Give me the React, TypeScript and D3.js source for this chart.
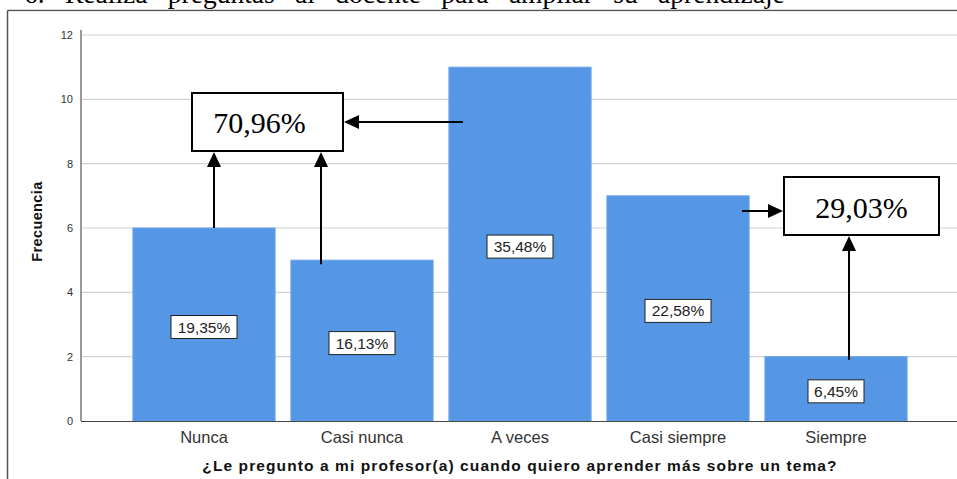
import React from "react";
import * as d3 from "d3";

const categories = ["Nunca", "Casi nunca", "A veces", "Casi siempre", "Siempre"];
const frequencies = [6, 5, 11, 7, 2];
const percentLabels = ["19,35%", "16,13%", "35,48%", "22,58%", "6,45%"];
const yTicks = [0, 2, 4, 6, 8, 10, 12];
const groupLow = "70,96%";
const groupHigh = "29,03%";
const headerText = "6. Realiza preguntas al docente para ampliar su aprendizaje";
const xTitle = "¿Le pregunto a mi profesor(a) cuando quiero aprender más sobre un tema?";
const yTitle = "Frecuencia";

const W = 957;
const H = 479;

export default function App() {
  const x = d3.scaleBand<string>().domain(categories).range([125, 915]).paddingInner(0.1).paddingOuter(0.05);
  const y = d3.scaleLinear().domain([0, 12]).range([421, 35]);
  const bw = x.bandwidth();
  const sans = "Arial, 'Liberation Sans', sans-serif";
  const serif = "'Times New Roman', 'Liberation Serif', serif";

  const Arrow = ({ x1, y1, x2, y2 }: { x1: number; y1: number; x2: number; y2: number }) => {
    const ang = Math.atan2(y2 - y1, x2 - x1);
    const L = 15, Wd = 7;
    const bx = x2 - L * Math.cos(ang), by = y2 - L * Math.sin(ang);
    const px = -Math.sin(ang) * Wd, py = Math.cos(ang) * Wd;
    return (
      <g>
        <line x1={x1} y1={y1} x2={bx} y2={by} stroke="#000" strokeWidth={2} />
        <polygon points={`${x2},${y2} ${bx + px},${by + py} ${bx - px},${by - py}`} fill="#000" />
      </g>
    );
  };

  const cx = (c: string) => (x(c) as number) + bw / 2;

  const box1 = { x0: 192, x1: 343, y0: 93, y1: 151 };
  const box2 = { x0: 784, x1: 939, y0: 177, y1: 235 };

  return (
    <svg width={W} height={H} style={{ position: "absolute", left: 0, top: 0, background: "#fff" }}>
      <rect x={0} y={0} width={W} height={H} fill="#fff" />
      <text x={24} y={3} fontFamily={serif} fontSize={27.5} wordSpacing={13.5} fill="#000">{headerText}</text>
      {/* frame */}
      <line x1={7.5} y1={10.5} x2={W} y2={10.5} stroke="#555" strokeWidth={1.5} />
      <line x1={7.5} y1={10.5} x2={7.5} y2={H} stroke="#555" strokeWidth={1.5} />
      <rect x={9} y={11.5} width={W - 9} height={H - 12} fill="#fff" />

      {/* grid */}
      {yTicks.filter((t) => t > 0).map((t) => (
        <line key={t} x1={81} x2={W} y1={y(t)} y2={y(t)} stroke="#d2d2d2" strokeWidth={1.2} />
      ))}
      {yTicks.map((t) => (
        <text key={t} x={73} y={y(t) + 4} textAnchor="end" fontFamily={sans} fontSize={11} fill="#333">{t}</text>
      ))}
      <line x1={81} x2={81} y1={30} y2={421} stroke="#999" strokeWidth={2} />

      {/* bars */}
      {categories.map((c, i) => (
        <rect key={c} x={x(c)} y={y(frequencies[i])} width={bw} height={y(0) - y(frequencies[i])} fill="#5597e5" stroke="#6aa4ea" strokeWidth={1} />
      ))}
      <line x1={81} x2={W} y1={421.5} y2={421.5} stroke="#444" strokeWidth={1.2} />

      {/* percent labels */}
      {categories.map((c, i) => {
        const cy = y(frequencies[i] / 2) + 2.5;
        const w = percentLabels[i].length > 5 ? 66 : 56;
        return (
          <g key={c}>
            <rect x={cx(c) - w / 2} y={cy - 11.5} width={w} height={23} fill="#fff" stroke="#222" strokeWidth={1} />
            <text x={cx(c)} y={cy + 5.5} textAnchor="middle" fontFamily={sans} fontSize={15.5} fill="#222">{percentLabels[i]}</text>
          </g>
        );
      })}

      {/* x labels */}
      {categories.map((c) => (
        <text key={c} x={cx(c)} y={443} textAnchor="middle" fontFamily={sans} fontSize={16.5} fill="#333">{c}</text>
      ))}
      <text x={520} y={471} textAnchor="middle" fontFamily={sans} fontSize={15.5} fontWeight="bold" letterSpacing={1.1} fill="#111">{xTitle}</text>
      <text transform={`translate(42,${y(6.2)}) rotate(-90)`} textAnchor="middle" fontFamily={sans} fontSize={14.5} fontWeight="bold" letterSpacing={0.4} fill="#111">{yTitle}</text>

      {/* annotation boxes */}
      <rect x={box1.x0} y={box1.y0} width={box1.x1 - box1.x0} height={box1.y1 - box1.y0} fill="#fff" stroke="#000" strokeWidth={2} />
      <text x={(box1.x0 + box1.x1) / 2 - 8} y={133} textAnchor="middle" fontFamily={serif} fontSize={30} fill="#000">{groupLow}</text>
      <rect x={box2.x0} y={box2.y0} width={box2.x1 - box2.x0} height={box2.y1 - box2.y0} fill="#fff" stroke="#000" strokeWidth={2} />
      <text x={(box2.x0 + box2.x1) / 2} y={218} textAnchor="middle" fontFamily={serif} fontSize={30} fill="#000">{groupHigh}</text>

      {/* arrows */}
      <Arrow x1={214} y1={y(frequencies[0])} x2={214} y2={box1.y1 + 1} />
      <Arrow x1={321} y1={y(frequencies[1]) + 4} x2={321} y2={box1.y1 + 1} />
      <Arrow x1={(x("A veces") as number) + 14} y1={122} x2={box1.x1 + 1} y2={122} />
      <Arrow x1={742} y1={211} x2={box2.x0 - 1} y2={211} />
      <Arrow x1={849} y1={y(frequencies[4]) + 3} x2={849} y2={box2.y1 + 1} />
    </svg>
  );
}
